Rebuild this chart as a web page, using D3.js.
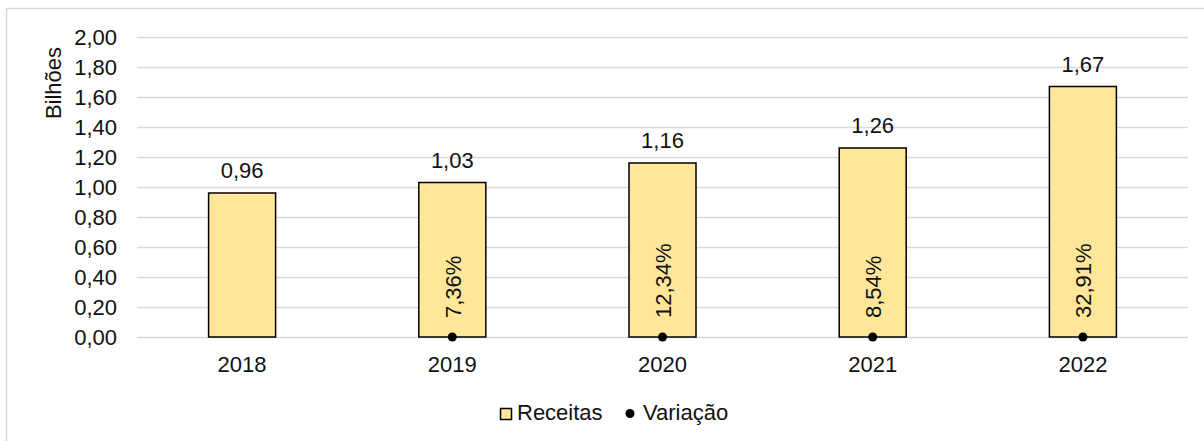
<!DOCTYPE html>
<html>
<head>
<meta charset="utf-8">
<script src="https://cdn.jsdelivr.net/npm/d3@7"></script>
<style>
  body { margin: 0; background: #fff; }
  text { font-family: "Liberation Sans", Arial, sans-serif; fill: #111; }
</style>
</head>
<body>
<script>
const years = ["2018", "2019", "2020", "2021", "2022"];
const receitas = [0.96, 1.03, 1.16, 1.26, 1.67];
const variacao = [null, 7.36, 12.34, 8.54, 32.91];
const yTicks = [0, 0.2, 0.4, 0.6, 0.8, 1.0, 1.2, 1.4, 1.6, 1.8, 2.0];

const width = 1204;
const height = 441;
const margin = { top: 37, right: 16, bottom: 104, left: 137 };
const fs = "22px";

const svg = d3.select("body").append("svg")
    .attr("width", width)
    .attr("height", height);

// outer chart frame (cut at right/bottom)
svg.append("rect")
    .attr("x", 6.5)
    .attr("y", 8.5)
    .attr("width", 1220)
    .attr("height", 460)
    .attr("fill", "none")
    .attr("stroke", "#d9d9d9")
    .attr("stroke-width", 1.5);

const x = d3.scaleBand()
    .domain(years)
    .range([margin.left, width - margin.right]);

const y = d3.scaleLinear()
    .domain([0, 2])
    .range([height - margin.bottom, margin.top]);

const fmt = d3.formatLocale({ decimal: ",", thousands: ".", grouping: [3], currency: ["R$", ""] });
const f2 = fmt.format(".2f");

// gridlines + y labels
const yAxis = svg.append("g")
    .attr("transform", `translate(${margin.left},0)`)
    .call(d3.axisLeft(y).tickValues(yTicks).tickFormat(f2)
        .tickSize(-(width - margin.left - margin.right)).tickPadding(20));
yAxis.select(".domain").remove();
yAxis.selectAll(".tick line").attr("stroke", "#d9d9d9").attr("stroke-width", 1.5);
yAxis.selectAll(".tick text").attr("font-size", fs).attr("fill", "#111");

svg.append("text")
    .attr("transform", "translate(61,83) rotate(-90)")
    .attr("text-anchor", "middle")
    .attr("font-size", "22px")
    .text("Bilhões");

const barW = 67;

svg.selectAll(".bar")
    .data(receitas)
    .enter()
    .append("rect")
    .attr("class", "bar")
    .attr("x", (d, i) => x(years[i]) + x.bandwidth() / 2 - barW / 2)
    .attr("y", d => y(d))
    .attr("width", barW)
    .attr("height", d => y(0) - y(d))
    .attr("fill", "#ffe699")
    .attr("stroke", "#000")
    .attr("stroke-width", 1.5);

svg.selectAll(".vlabel")
    .data(receitas)
    .enter()
    .append("text")
    .attr("class", "vlabel")
    .attr("x", (d, i) => x(years[i]) + x.bandwidth() / 2)
    .attr("y", d => y(d) - 15)
    .attr("text-anchor", "middle")
    .attr("font-size", fs)
    .text(d => f2(d));

// variation series: markers on the baseline with rotated labels
const vdata = variacao.map((v, i) => ({ year: years[i], v })).filter(d => d.v !== null);

svg.selectAll(".dot")
    .data(vdata)
    .enter()
    .append("circle")
    .attr("cx", d => x(d.year) + x.bandwidth() / 2)
    .attr("cy", y(0))
    .attr("r", 4.5)
    .attr("fill", "#000");

svg.selectAll(".plabel")
    .data(vdata)
    .enter()
    .append("text")
    .attr("transform", d => `translate(${x(d.year) + x.bandwidth() / 2 + 8.5},${y(0) - 19}) rotate(-90)`)
    .attr("text-anchor", "start")
    .attr("font-size", fs)
    .text(d => f2(d.v) + "%");

// x labels
svg.selectAll(".xlabel")
    .data(years)
    .enter()
    .append("text")
    .attr("x", d => x(d) + x.bandwidth() / 2)
    .attr("y", y(0) + 35)
    .attr("text-anchor", "middle")
    .attr("font-size", fs)
    .text(d => d);

// legend
const legend = svg.append("g").attr("transform", "translate(500,408)");
legend.append("rect")
    .attr("x", 0.5).attr("y", 0.5)
    .attr("width", 11).attr("height", 11)
    .attr("fill", "#ffe699")
    .attr("stroke", "#000")
    .attr("stroke-width", 1.5);
legend.append("text")
    .attr("x", 17).attr("y", 12)
    .attr("font-size", fs)
    .text("Receitas");
legend.append("circle")
    .attr("cx", 130).attr("cy", 5.5)
    .attr("r", 4.5)
    .attr("fill", "#000");
legend.append("text")
    .attr("x", 143).attr("y", 12)
    .attr("font-size", fs)
    .text("Variação");
</script>
</body>
</html>
